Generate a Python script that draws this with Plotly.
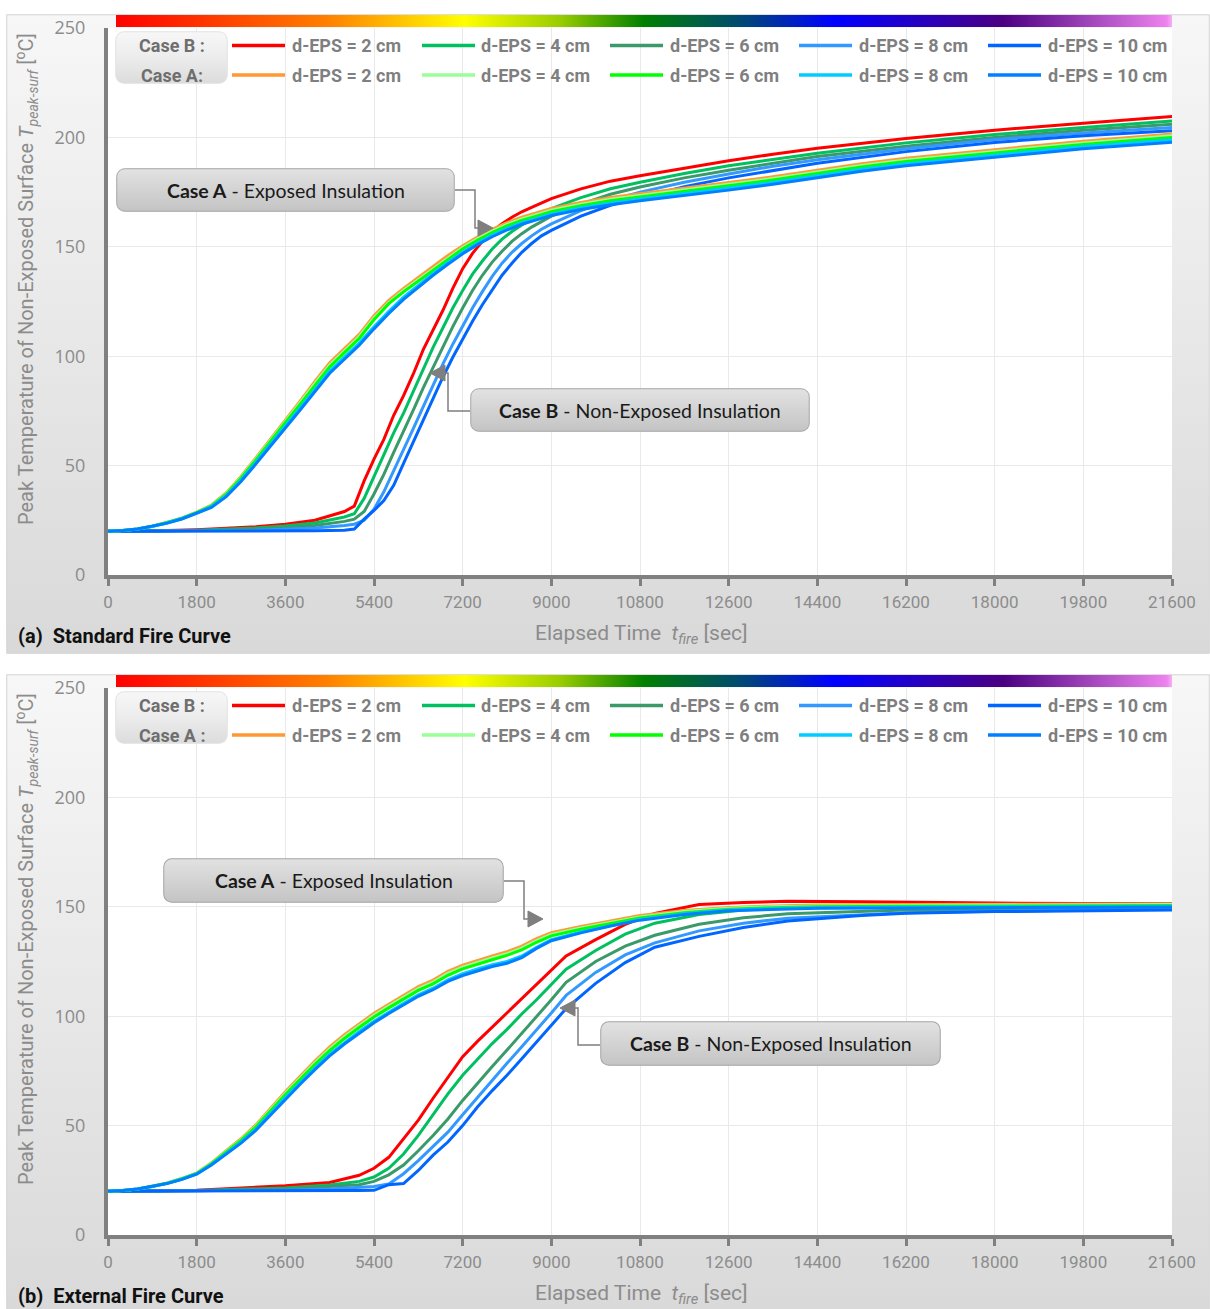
import base64
import plotly.graph_objects as go

# ---------------------------------------------------------------- data ----
X_TICKS = [0, 1800, 3600, 5400, 7200, 9000, 10800, 12600, 14400, 16200, 18000, 19800, 21600]
Y_TICKS = [0, 50, 100, 150, 200, 250]
THICKNESS_LABELS = ["d-EPS = 2 cm", "d-EPS = 4 cm", "d-EPS = 6 cm", "d-EPS = 8 cm", "d-EPS = 10 cm"]

# (a) Standard fire curve - Case B (non-exposed insulation)
TIME_B_STD = [0, 600, 1200, 1800, 2400, 3000, 3600, 4200, 4800, 5000,
              5200, 5400, 5600, 5800, 6000, 6200, 6400, 6600, 6800, 7000,
              7200, 7400, 7600, 7800, 8000, 8200, 8400, 8600, 8800, 9000,
              9600, 10200, 10800, 11700, 12600, 13500, 14400, 16200, 18000, 19800,
              21600]
STD_B_2 = [20, 20, 20.3, 20.7, 21.2, 22, 23.2, 25, 29, 31.5,
           43, 53, 62, 73, 82, 92, 103, 112, 121, 131,
           140, 147, 152.5, 157, 160.5, 163.5, 166, 168, 170, 172,
           176.5, 180, 182.5, 186, 189.3, 192.3, 195, 199.5, 203.3, 206.5,
           209.5]
STD_B_4 = [20, 20, 20.2, 20.5, 20.9, 21.5, 22.4, 23.8, 26.5, 28,
           35, 45, 55, 65, 74, 84, 94, 104, 113, 122,
           130, 137.5, 143.5, 149, 153.5, 157, 160, 162.5, 165, 167.5,
           172.5, 176.5, 179.5, 183.5, 187, 190, 192.8, 197.5, 201.3, 204.5,
           207.5]
STD_B_6 = [20, 20, 20.1, 20.3, 20.6, 21, 21.6, 22.6, 24.5, 25.5,
           29, 37, 46, 56, 65.5, 75.5, 85.5, 95, 104.5, 113.5,
           122, 130, 137, 143, 148, 152.5, 156, 159, 161.5, 164,
           169.5, 174, 177.3, 181.5, 185, 188.3, 191.3, 196, 200, 203.3,
           206]
STD_B_8 = [20, 20, 20, 20.1, 20.3, 20.5, 20.9, 21.5, 22.6, 23.2,
           25, 30, 38, 47.5, 57, 67, 77, 87, 96.5, 105.5,
           114, 122, 129.5, 136.5, 142.5, 147.5, 151.5, 155, 158, 160.5,
           166.5, 171.3, 175, 179.5, 183.3, 186.8, 189.8, 194.8, 199, 202,
           204.5]
STD_B_10 = [20, 20, 20, 20, 20, 20, 20.1, 20.2, 20.4, 21,
            25.5, 29.5, 34, 41, 51, 61, 71, 81, 90.5, 99.5,
            108, 116, 123.5, 130.5, 137, 142.5, 147.5, 151.5, 155, 157.5,
            164, 169, 172.5, 177.5, 181.5, 185, 188.2, 193.5, 197.7, 200.7,
            203]

# (a) Standard fire curve - Case A (exposed insulation)
TIME_A_STD = [0, 300, 600, 900, 1200, 1500, 1800, 2100, 2400, 2700,
              3000, 3300, 3600, 3900, 4200, 4500, 4800, 5100, 5400, 5700,
              6000, 6300, 6600, 6900, 7200, 7500, 7800, 8100, 8400, 8700,
              9000, 9600, 10200, 10800, 11700, 12600, 13500, 14400, 15300, 16200,
              18000, 19800, 21600]
STD_A_2 = [20, 20.3, 21, 22.3, 24, 26, 28.7, 32, 37.5, 45,
           53.5, 62, 71, 79.5, 88.5, 97, 103.5, 110, 118.5, 125.5,
           131, 136, 141, 146, 150.5, 154.5, 158, 161, 163.5, 165.5,
           167.5, 170.3, 172.5, 174.3, 176.8, 179.3, 182, 185, 188, 190.5,
           194.5, 198.3, 201.5]
STD_A_4 = [20, 20.3, 21, 22.3, 24, 26, 28.6, 31.8, 37.2, 44.6,
           53, 61.4, 70.3, 78.7, 87.6, 96, 102.5, 109, 117.5, 124.5,
           130, 135, 140, 145, 149.7, 153.7, 157.2, 160.2, 162.7, 164.7,
           166.7, 169.5, 171.7, 173.5, 176, 178.5, 181.2, 184.2, 187.2, 189.7,
           193.7, 197.5, 200.7]
STD_A_6 = [20, 20.3, 21, 22.3, 24, 26, 28.5, 31.6, 36.9, 44.2,
           52.5, 60.8, 69.6, 78, 86.8, 95.1, 101.6, 108.1, 116.7, 124,
           129.4, 134.3, 139.3, 144.3, 149, 153, 156.5, 159.5, 162, 164,
           166, 168.8, 171, 172.8, 175.3, 177.8, 180.5, 183.5, 186.5, 189,
           193, 196.8, 200]
STD_A_8 = [20, 20.3, 21, 22.2, 23.8, 25.8, 28.3, 31.2, 36.2, 43.3,
           51.4, 59.5, 68.1, 76.4, 85, 93.2, 99.6, 106, 113.5, 120.5,
           127, 132.5, 137.8, 142.8, 147.6, 151.7, 155.3, 158.4, 161, 163,
           165, 167.8, 170, 171.8, 174.3, 176.8, 179.5, 182.5, 185.5, 188,
           192, 195.8, 198.9]
STD_A_10 = [20, 20.3, 21, 22.2, 23.7, 25.6, 28.1, 30.9, 35.8, 42.7,
            50.7, 58.7, 67.2, 75.4, 84, 92.2, 98.6, 105, 112.5, 119.5,
            126, 131.6, 137, 142, 146.8, 151, 154.6, 157.7, 160.3, 162.3,
            164.3, 167, 169.2, 171, 173.4, 175.9, 178.6, 181.5, 184.5, 187,
            191, 194.8, 197.8]

# (b) External fire curve - Case B (non-exposed insulation)
TIME_B_EXT = [0, 1800, 3600, 4500, 5100, 5400, 5700, 6000, 6300, 6600,
              6900, 7200, 7500, 7800, 8100, 8400, 8700, 9000, 9300, 9900,
              10500, 11100, 12000, 12900, 13800, 15300, 16200, 18000, 19800, 21600]
EXT_B_2 = [20, 20.5, 22.5, 24, 27.3, 30.5, 35.5, 44, 52.5, 62.5,
           72, 81.5, 88.5, 95, 101.5, 108, 114.5, 121, 127.5, 135,
           142, 147, 151, 152, 152.5, 152.3, 152, 151.7, 151.5, 151.5]
EXT_B_4 = [20, 20.3, 21.5, 22.8, 24.5, 26.5, 30.5, 37, 45.5, 55,
           64.5, 73, 80.5, 87.5, 94, 101, 107.5, 114.5, 121.5, 130,
           137.5, 142.5, 146.5, 148.5, 149.5, 150, 150.2, 150.3, 150.4, 150.5]
EXT_B_6 = [20, 20.2, 21, 22, 23, 24.5, 27.5, 32, 38.5, 45.5,
           53, 61.5, 69.5, 77, 84.5, 92, 99.5, 107.5, 115.5, 125,
           132, 137, 142, 145, 146.8, 148, 148.5, 149, 149.3, 149.5]
EXT_B_8 = [20, 20.1, 20.5, 21, 21.6, 22.2, 23.3, 28, 34, 40.5,
           47, 55, 63, 71, 78.5, 86, 93.5, 101.5, 109.5, 120,
           128, 133.5, 139, 142.5, 144.8, 146.5, 147.3, 148, 148.5, 149]
EXT_B_10 = [20, 20, 20.1, 20.2, 20.3, 20.4, 23, 23.5, 29.5, 36.5,
            42.5, 50, 58.5, 66, 73, 80.5, 88, 96, 103.5, 115,
            124.5, 131.5, 136.5, 140.5, 143.5, 146, 147, 147.8, 148.2, 148.5]

# (b) External fire curve - Case A (exposed insulation)
TIME_A_EXT = [0, 300, 600, 900, 1200, 1500, 1800, 2100, 2400, 2700,
              3000, 3300, 3600, 3900, 4200, 4500, 4800, 5100, 5400, 5700,
              6000, 6300, 6600, 6900, 7200, 7500, 7800, 8100, 8400, 8700,
              9000, 9600, 10200, 10800, 11700, 12600, 13500, 14400, 16200, 18000,
              19800, 21600]
EXT_A_2 = [20, 20.3, 21, 22.2, 23.8, 25.8, 28.3, 33, 38.5, 44,
           50.3, 58, 65.5, 72.5, 79.5, 86, 91.5, 96.5, 101.3, 105.5,
           109.5, 113.5, 116.5, 120.5, 123.3, 125.5, 127.5, 129.5, 132, 135.5,
           138.2, 141, 143.5, 146, 148.3, 149.7, 150.4, 150.8, 151, 151.2,
           151.3, 151.4]
EXT_A_4 = [20, 20.3, 21, 22.2, 23.8, 25.8, 28.2, 32.8, 38.2, 43.6,
           49.8, 57.4, 64.8, 71.7, 78.7, 85.1, 90.6, 95.6, 100.4, 104.6,
           108.6, 112.6, 115.6, 119.6, 122.4, 124.6, 126.6, 128.6, 131.1, 134.6,
           137.4, 140.3, 142.9, 145.4, 147.8, 149.3, 150, 150.4, 150.6, 150.8,
           150.9, 151]
EXT_A_6 = [20, 20.3, 21, 22.2, 23.7, 25.7, 28.1, 32.6, 37.9, 43.2,
           49.3, 56.8, 64.1, 71, 77.9, 84.3, 89.8, 94.8, 99.6, 103.8,
           107.8, 111.8, 114.8, 118.7, 121.6, 123.8, 125.8, 127.8, 130.3, 133.8,
           136.7, 139.7, 142.4, 144.9, 147.3, 148.9, 149.6, 150, 150.2, 150.4,
           150.5, 150.6]
EXT_A_8 = [20, 20.3, 21, 22.1, 23.6, 25.5, 27.9, 32.2, 37.3, 42.4,
           48.3, 55.6, 62.8, 69.5, 76.3, 82.6, 88, 93, 97.7, 101.9,
           105.9, 109.8, 112.8, 116.6, 119.4, 121.6, 123.5, 125, 127.5, 131.5,
           135, 138.5, 141.5, 144.2, 146.8, 148.5, 149.2, 149.6, 149.8, 150,
           150.1, 150.2]
EXT_A_10 = [20, 20.3, 21, 22.1, 23.5, 25.4, 27.8, 32, 37, 42,
            47.8, 55, 62.2, 68.9, 75.6, 81.9, 87.3, 92.3, 97, 101.2,
            105.2, 109.1, 112.1, 115.9, 118.6, 120.8, 122.7, 124.2, 126.8, 131,
            134.5, 138.1, 141.2, 143.9, 146.5, 148.2, 148.9, 149.3, 149.5, 149.7,
            149.8, 149.9]

PANEL_TITLES = ["(a)\u00a0 Standard Fire Curve", "(b)\u00a0 External Fire Curve"]
CASE_ROW_LABELS = [["Case B :", "Case A:"], ["Case B :", "Case A :"]]

# ---------------------------------------------------------------- style ---
W, H = 1210, 1309
COLORS_B = ["#ff0000", "#00c060", "#3a9a6a", "#3399ff", "#0066ff"]
COLORS_A = ["#ff9933", "#99ff99", "#00ff00", "#00ccff", "#0080ff"]
NARROW = "Roboto, Liberation Sans, sans-serif"
BOXFONT = "Lato, Open Sans, sans-serif"
GRAY_TXT = "#8c8c8c"


def px(x):
    return x / W


def py(y):
    return 1 - y / H


def svg_uri(svg):
    return "data:image/svg+xml;base64," + base64.b64encode(svg.encode()).decode()


def vgrad_rect(w, h, top, bottom, stroke, r=0, mid=None):
    stops = f'<stop offset="0" stop-color="{top}"/>'
    if mid:
        stops += f'<stop offset="0.5" stop-color="{mid}"/>'
    stops += f'<stop offset="1" stop-color="{bottom}"/>'
    return svg_uri(
        f'<svg xmlns="http://www.w3.org/2000/svg" width="{w}" height="{h}" viewBox="0 0 {w} {h}">'
        f'<defs><linearGradient id="g" x1="0" y1="0" x2="0" y2="1">{stops}</linearGradient></defs>'
        f'<rect x="0.75" y="0.75" width="{w - 1.5}" height="{h - 1.5}" rx="{r}" ry="{r}" '
        f'fill="url(#g)" stroke="{stroke}" stroke-width="1"/></svg>')


RAINBOW = svg_uri(
    '<svg xmlns="http://www.w3.org/2000/svg" width="1056" height="12" viewBox="0 0 1056 12">'
    '<defs><linearGradient id="r" x1="0" y1="0" x2="1" y2="0">'
    '<stop offset="0" stop-color="#ff0000"/><stop offset="0.2" stop-color="#ff8000"/>'
    '<stop offset="0.27" stop-color="#ffc400"/><stop offset="0.33" stop-color="#ffff00"/>'
    '<stop offset="0.42" stop-color="#9acd00"/><stop offset="0.5" stop-color="#008000"/>'
    '<stop offset="0.59" stop-color="#004a70"/><stop offset="0.68" stop-color="#0000ff"/>'
    '<stop offset="0.84" stop-color="#4b0082"/><stop offset="0.995" stop-color="#ee82ee"/>'
    '<stop offset="1" stop-color="#f4b0f4"/>'
    '</linearGradient></defs><rect width="1056" height="12" fill="url(#r)"/></svg>')

PANEL_BG = vgrad_rect(1204, 640, "#f7f7f7", "#d9d9d9", "#d4d4d4")
LEGEND_BG = vgrad_rect(113, 53, "#f7f7f7", "#dcdcdc", "#e2e2e2", r=8, mid="#ececec")
NOTE_BG = vgrad_rect(340, 45, "#e2e2e2", "#c4c4c4", "#a5a5a5", r=8)

# ---------------------------------------------------------------- figure --
fig = go.Figure()

panels = [
    dict(xa="x", ya="y", tb=TIME_B_STD, B=[STD_B_2, STD_B_4, STD_B_6, STD_B_8, STD_B_10],
         ta=TIME_A_STD, A=[STD_A_2, STD_A_4, STD_A_6, STD_A_8, STD_A_10]),
    dict(xa="x2", ya="y2", tb=TIME_B_EXT, B=[EXT_B_2, EXT_B_4, EXT_B_6, EXT_B_8, EXT_B_10],
         ta=TIME_A_EXT, A=[EXT_A_2, EXT_A_4, EXT_A_6, EXT_A_8, EXT_A_10]),
]

for p in panels:
    for vals, col, lab in zip(p["B"], COLORS_B, THICKNESS_LABELS):
        fig.add_trace(go.Scatter(x=p["tb"], y=vals, mode="lines", name="Case B: " + lab,
                                 line=dict(color=col, width=3), xaxis=p["xa"], yaxis=p["ya"],
                                 showlegend=False))
    for vals, col, lab in zip(p["A"], COLORS_A, THICKNESS_LABELS):
        fig.add_trace(go.Scatter(x=p["ta"], y=vals, mode="lines", name="Case A: " + lab,
                                 line=dict(color=col, width=3), xaxis=p["xa"], yaxis=p["ya"],
                                 showlegend=False))


def x_axis(anchor):
    return dict(anchor=anchor, domain=[px(108), px(1172)], range=[0, 21600],
                tickmode="array", tickvals=X_TICKS, ticktext=[str(v) for v in X_TICKS],
                showgrid=True, gridcolor="#e9e9e9", gridwidth=1, zeroline=False,
                showline=True, linecolor="#808080", linewidth=4,
                ticks="outside", ticklen=7, tickwidth=3, tickcolor="#808080",
                tickfont=dict(family=NARROW, size=17, color=GRAY_TXT),
                ticklabelstandoff=2, automargin=False, fixedrange=True)


def y_axis(anchor, top, bottom):
    return dict(anchor=anchor, domain=[py(bottom), py(top)], range=[0, 250],
                tickmode="array", tickvals=Y_TICKS, showgrid=True, gridcolor="#e9e9e9",
                gridwidth=1, zeroline=False, showline=True, linecolor="#808080", linewidth=4,
                ticks="", tickfont=dict(family="Open Sans, sans-serif", size=18, color=GRAY_TXT),
                ticklabelstandoff=15, automargin=False, fixedrange=True)


images, shapes, annotations = [], [], []


def add_image(src, x0, y0, x1, y1, layer):
    images.append(dict(source=src, xref="paper", yref="paper", x=px(x0), y=py(y0),
                       sizex=(x1 - x0) / W, sizey=(y1 - y0) / H, xanchor="left",
                       yanchor="top", sizing="stretch", layer=layer))


def text(x, y, s, size, color, family, xanchor="center", angle=0):
    annotations.append(dict(x=px(x), y=py(y), xref="paper", yref="paper", text=s,
                            showarrow=False, xanchor=xanchor, yanchor="middle",
                            textangle=angle, font=dict(family=family, size=size, color=color)))


def path(points):
    return "M " + " L ".join(f"{px(a):.5f},{py(b):.5f}" for a, b in points)


def callout(box, label_html, elbow, tip, direction):
    x0, y0, x1, y1 = box
    add_image(NOTE_BG, x0, y0, x1, y1, "above")
    text((x0 + x1) / 2, (y0 + y1) / 2, label_html, 19.5, "#1a1a1a", BOXFONT)
    shapes.append(dict(type="path", xref="paper", yref="paper", path=path(elbow),
                       line=dict(color="#7f7f7f", width=1.5), layer="above"))
    tx, ty = tip
    back = -15 if direction == "right" else 15
    tri = path([(tx, ty), (tx + back, ty - 8), (tx + back, ty + 8)]) + " Z"
    shapes.append(dict(type="path", xref="paper", yref="paper", path=tri,
                       fillcolor="#7f7f7f", line=dict(color="#7f7f7f", width=1), layer="above"))


for i, dy in enumerate([0, 660]):
    sfx = "" if i == 0 else "2"
    # panel background, rainbow band and white plotting area
    add_image(PANEL_BG, 6, 14 + dy, 1210, 654 + dy, "below")
    add_image(RAINBOW, 116, 15 + dy, 1172, 27 + dy, "below")
    shapes.append(dict(type="rect", xref=f"x{sfx} domain", yref=f"y{sfx} domain",
                       x0=0, x1=1, y0=0, y1=1, fillcolor="white", line=dict(width=0),
                       layer="below"))
    # legend
    add_image(LEGEND_BG, 115, 31 + dy, 228, 84 + dy, "above")
    rows = [(45.5 + dy, COLORS_B), (75 + dy, COLORS_A)]
    for r, (yy, cols) in enumerate(rows):
        text(172, yy, f"<b>{CASE_ROW_LABELS[i][r]}</b>", 18, "#6e6e6e", NARROW)
        for c, (lx, tx) in enumerate(zip([232, 422, 610, 799, 988], [290, 479, 668, 857, 1046])):
            shapes.append(dict(type="line", xref="paper", yref="paper", x0=px(lx), x1=px(lx + 53),
                               y0=py(yy), y1=py(yy), line=dict(color=cols[c], width=3.5),
                               layer="above"))
            text(tx, yy, f"<b>{THICKNESS_LABELS[c]}</b>", 18, "#7f7f7f", NARROW, xanchor="left")
    # axis titles and panel caption
    text(26, 279 + dy,
         "Peak Temperature of Non-Exposed Surface <i>T</i><sub><i>peak-surf</i></sub> [<sup>o</sup>C]",
         20, GRAY_TXT, NARROW, angle=-90)
    text(641, 634 + dy, "Elapsed Time\u00a0 <i>t</i><sub><i>fire</i></sub> [sec]", 21, GRAY_TXT, NARROW)
    text(16, 636 + dy, f"<b>{PANEL_TITLES[i]}</b>", 20, "#111111", NARROW, xanchor="left")

# call-outs
callout((116, 168, 455, 212), "<b>Case A</b> - Exposed Insulation",
        [(455, 190), (475, 190), (475, 228), (479, 228)], (493, 228), "right")
callout((470, 388, 810, 432), "<b>Case B</b> - Non-Exposed Insulation",
        [(470, 411), (448, 411), (448, 373), (444, 373)], (430, 373), "left")
callout((163, 858, 504, 903), "<b>Case A</b> - Exposed Insulation",
        [(504, 881), (524, 881), (524, 919), (528, 919)], (543, 919), "right")
callout((600, 1021, 941, 1066), "<b>Case B</b> - Non-Exposed Insulation",
        [(600, 1045), (578, 1045), (578, 1008), (574, 1008)], (560, 1008), "left")

fig.update_layout(
    width=W, height=H, margin=dict(l=0, r=0, t=0, b=0, pad=0, autoexpand=False),
    paper_bgcolor="white", plot_bgcolor="rgba(0,0,0,0)",
    showlegend=False,
    xaxis=x_axis("y"), yaxis=y_axis("x", 28, 575),
    xaxis2=x_axis("y2"), yaxis2=y_axis("x2", 688, 1235),
    images=images, shapes=shapes, annotations=annotations,
)

# the page body keeps no default margin so the figure fills the window exactly
fig.write_html("out.html",
               post_script="document.body.style.margin='0';document.body.style.overflow='hidden';")
